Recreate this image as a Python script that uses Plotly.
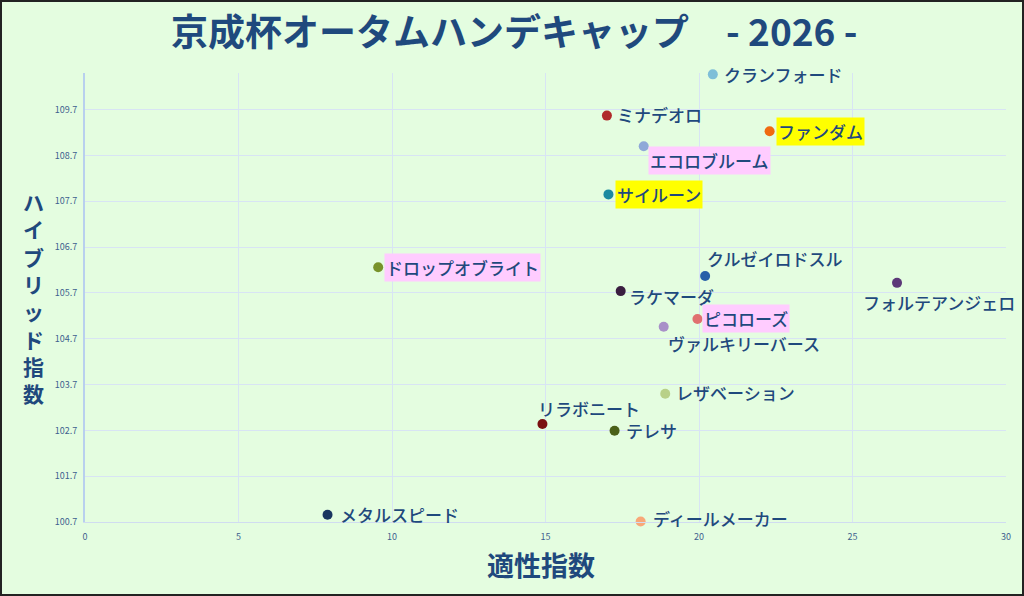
import plotly.graph_objects as go

names = ["クランフォード", "ミナデオロ", "ファンダム", "エコロブルーム", "サイルーン",
         "ドロップオブライト", "クルゼイロドスル", "フォルテアンジェロ", "ラケマーダ", "ピコローズ",
         "ヴァルキリーバース", "レザベーション", "リラボニート", "テレサ", "メタルスピード", "ディールメーカー"]
aptitude = [20.45, 17.0, 22.3, 18.2, 17.05, 9.55, 20.2, 26.45, 17.45, 19.95,
            18.85, 18.9, 14.9, 17.25, 7.9, 18.1]
hybrid = [110.47, 109.57, 109.23, 108.9, 107.85, 106.26, 106.07, 105.92, 105.74, 105.13,
          104.96, 103.5, 102.84, 102.69, 100.86, 100.71]
x_ticks = [0, 5, 10, 15, 20, 25, 30]
y_ticks = [100.7, 101.7, 102.7, 103.7, 104.7, 105.7, 106.7, 107.7, 108.7, 109.7]

# styles
colors = ["#7fbfd8", "#b02a2a", "#f06a10", "#8fa8d8", "#1b8aa0",
          "#78922a", "#2860a8", "#5c3878", "#3a1e40", "#e07070",
          "#a890c8", "#b8d088", "#7a1010", "#4a6018", "#1a3560", "#f8a878"]
label_bg = [None, None, "#ffff00", "#ffccff", "#ffff00",
            "#ffccff", None, None, None, "#ffccff",
            None, None, None, None, None, None]
# (xshift, yshift, xanchor)
label_pos = [(10, 0, "left"), (9, 1, "left"), (6, 0, "left"), (4, -14, "left"), (7, 0, "left"),
             (6, 0, "left"), (1, 17, "left"), (42, -20, "center"), (7, -5, "left"), (5, 1, "left"),
             (3, -17, "left"), (10, 1, "left"), (-5, 15, "left"), (10, 0, "left"), (11, 0, "left"), (11, 3, "left")]

TXT = "#1f497d"
BG = "#e4fde0"
W, H = 1024, 596
ML, MR, MT, MB = 85, 18, 73, 74

fig = go.Figure()
fig.add_trace(go.Scatter(
    x=aptitude, y=hybrid, mode="markers",
    marker=dict(size=10, color=colors, line=dict(width=0)),
    hoverinfo="skip", showlegend=False, cliponaxis=False,
))

for n, xv, yv, bg, (dx, dy, xa) in zip(names, aptitude, hybrid, label_bg, label_pos):
    fig.add_annotation(
        x=xv, y=yv, xref="x", yref="y", text=n, showarrow=False,
        xanchor=xa, yanchor="middle", xshift=dx, yshift=dy,
        font=dict(family="Noto Sans CJK JP", size=17, color=TXT, weight=500),
        bgcolor=bg if bg else "rgba(0,0,0,0)", borderpad=1 if bg else 0,
    )

# title
fig.add_annotation(
    x=0.5, y=1.0, xref="paper", yref="paper", yshift=43, xshift=-31,
    text="京成杯オータムハンデキャップ　- 2026 -", showarrow=False,
    font=dict(family="Noto Sans CJK JP", size=37, color=TXT, weight=700),
    xanchor="center", yanchor="middle",
)
# x axis title
fig.add_annotation(
    x=0.5, y=0, xref="paper", yref="paper", yshift=-42, xshift=-5,
    text="適性指数", showarrow=False,
    font=dict(family="Noto Sans CJK JP", size=27, color=TXT, weight=700),
    xanchor="center", yanchor="middle",
)
# y axis title, stacked vertically
ytitle = "ハイブリッド指数"
pw, ph = W - ML - MR, H - MT - MB
fig.add_annotation(
    x=(33 - ML) / pw, y=1 - (297 - MT) / ph, xref="paper", yref="paper",
    text="<br>".join(ytitle), showarrow=False,
    font=dict(family="Noto Sans CJK JP", size=21, color=TXT, weight=700),
    xanchor="center", yanchor="middle", align="center",
)

# outer border
fig.add_shape(type="rect", xref="paper", yref="paper",
              x0=(1 - ML) / pw, x1=1 + (MR - 1) / pw,
              y0=-(MB - 1) / ph, y1=1 + (MT - 1) / ph,
              line=dict(color="#222222", width=2), fillcolor="rgba(0,0,0,0)", layer="above")

fig.update_layout(
    width=W, height=H, margin=dict(l=ML, r=MR, t=MT, b=MB),
    paper_bgcolor=BG, plot_bgcolor=BG,
    font=dict(family="Noto Sans CJK JP", color=TXT),
    xaxis=dict(range=[0, 30], tickvals=x_ticks, ticktext=[str(v) for v in x_ticks],
               showgrid=True, gridcolor="#d8e4f4", gridwidth=1, zeroline=False,
               showline=True, linecolor="#d0dcf0", linewidth=1,
               tickfont=dict(size=9, color="#3f5f8f"), ticks="", ticklabelstandoff=6),
    yaxis=dict(range=[100.7, 110.5], tickvals=y_ticks, ticktext=[f"{v:.1f}" for v in y_ticks],
               showgrid=True, gridcolor="#d8e4f4", gridwidth=1, zeroline=False,
               showline=True, linecolor="#b8d0ee", linewidth=2,
               tickfont=dict(size=9, color="#3f5f8f"), ticks="", ticklabelstandoff=4),
)

fig.write_html("out.html", config={"displayModeBar": False},
               post_script="document.body.style.margin='0';document.body.style.overflow='hidden';")
